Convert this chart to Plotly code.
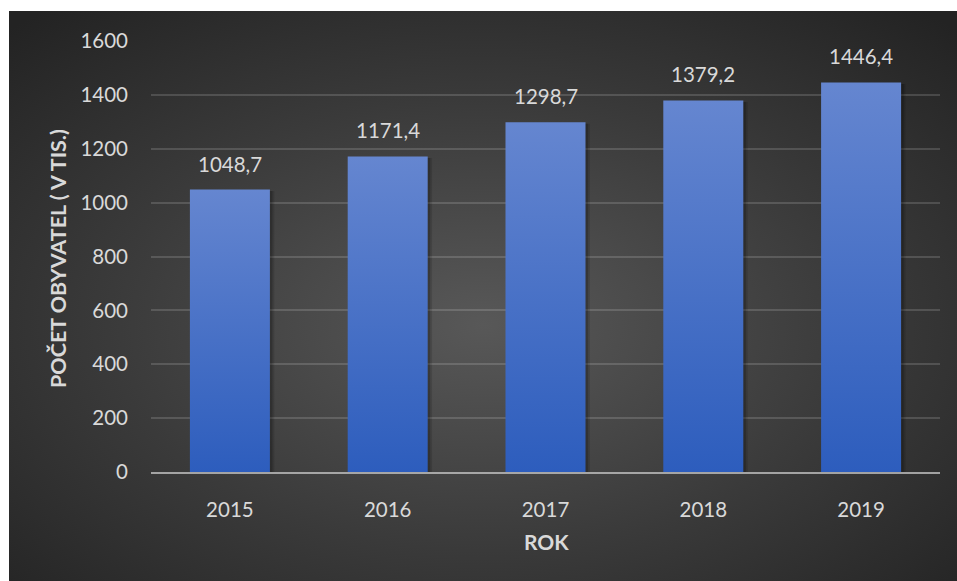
import base64
import plotly.graph_objects as go

# ---- data ----
years = ["2015", "2016", "2017", "2018", "2019"]
population = [1048.7, 1171.4, 1298.7, 1379.2, 1446.4]
y_ticks = [0, 200, 400, 600, 800, 1000, 1200, 1400, 1600]
x_title = "ROK"
y_title = "POČET OBYVATEL ( V TIS.)"

W, H = 957, 581
FONT = "Lato"
TXT = "#d9d9d9"
BAR_W = 0.507

# background radial gradient (svg data uri)
svg = """<svg xmlns='http://www.w3.org/2000/svg' width='948' height='570' viewBox='0 0 948 570' preserveAspectRatio='none'>
<defs><radialGradient id='g' cx='0.5' cy='0.55' r='0.72'>
<stop offset='0' stop-color='#585858'/>
<stop offset='0.55' stop-color='#3a3a3a'/>
<stop offset='1' stop-color='#232323'/>
</radialGradient></defs>
<rect width='948' height='570' fill='url(#g)'/></svg>"""
bg_uri = "data:image/svg+xml;base64," + base64.b64encode(svg.encode()).decode()

fig = go.Figure()

idx = list(range(len(years)))

# soft shadows
for i, v in zip(idx, population):
    for dx, a in [(0.028, 0.12), (0.016, 0.18)]:
        x0, x1 = i - BAR_W / 2 + dx, i + BAR_W / 2 + dx
        fig.add_trace(go.Scatter(
            x=[x0, x1, x1, x0, x0], y=[0, 0, v - 6, v - 6, 0],
            fill="toself", mode="none", fillcolor=f"rgba(0,0,0,{a})",
            hoverinfo="skip", showlegend=False))

# bars with vertical gradient
for i, v in zip(idx, population):
    x0, x1 = i - BAR_W / 2, i + BAR_W / 2
    fig.add_trace(go.Scatter(
        x=[x0, x1, x1, x0, x0], y=[0, 0, v, v, 0],
        fill="toself", mode="none",
        fillgradient=dict(type="vertical", start=0, stop=v,
                          colorscale=[[0, "#2d5dbd"], [1, "#6586d0"]]),
        hoverinfo="skip", showlegend=False))

# value labels
for i, v in zip(idx, population):
    fig.add_annotation(x=i, y=v, text=f"{v:.1f}".replace(".", ","),
                       showarrow=False, yanchor="middle", yshift=26,
                       font=dict(family=FONT, size=20.5, color=TXT))

# axis titles
fig.add_annotation(xref="paper", yref="paper", x=58 / W, y=1 - 259 / H,
                   text=f"<b>{y_title}</b>", textangle=-90, showarrow=False,
                   xanchor="center", yanchor="middle",
                   font=dict(family=FONT, size=21.5, color=TXT))
fig.add_annotation(xref="paper", yref="paper", x=546 / W, y=1 - 541 / H,
                   text=f"<b>{x_title}</b>", showarrow=False,
                   xanchor="center", yanchor="middle",
                   font=dict(family=FONT, size=21, color=TXT))

fig.add_layout_image(dict(source=bg_uri, xref="paper", yref="paper",
                          x=9 / W, y=1 - 11 / H, sizex=948 / W, sizey=570 / H,
                          xanchor="left", yanchor="top", sizing="stretch",
                          layer="below"))

fig.update_layout(
    width=W, height=H,
    margin=dict(l=0, r=0, t=0, b=0, autoexpand=False),
    paper_bgcolor="white", plot_bgcolor="rgba(0,0,0,0)",
    showlegend=False,
    xaxis=dict(domain=[151 / W, 940 / W], range=[-0.5, len(years) - 0.5],
               tickvals=idx, ticktext=years, showgrid=False, zeroline=False,
               showline=True, linecolor="rgba(200,200,200,0.75)", linewidth=2,
               ticklabelstandoff=18, automargin=False,
               tickfont=dict(family=FONT, size=20.5, color=TXT), fixedrange=True),
    yaxis=dict(domain=[(H - 472) / H, (H - 41) / H], range=[0, 1600],
               tickvals=y_ticks, showgrid=True, automargin=False,
               gridcolor="rgba(255,255,255,0.15)", gridwidth=1.5,
               zeroline=False, showline=False, ticklabelstandoff=22,
               tickfont=dict(family=FONT, size=20.5, color=TXT), fixedrange=True),
)

fig.write_html("out.html")
